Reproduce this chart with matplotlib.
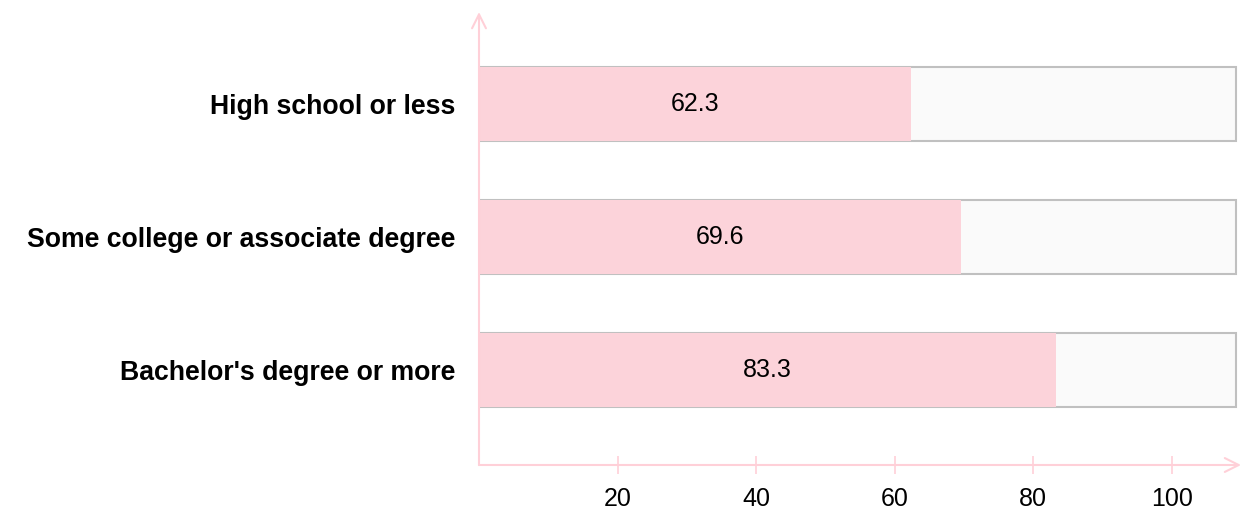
import matplotlib.pyplot as plt

# datos del grafico
categorias = ["High school or less", "Some college or associate degree", "Bachelor's degree or more"]
valores = [62.3, 69.6, 83.3]
ticks_x = [20, 40, 60, 80, 100]
fondo_max = 109.3

ROSA = "#fcd3da"
EJE = "#ffd0d8"

plt.rcParams["font.family"] = ["Liberation Sans", "DejaVu Sans"]

fig = plt.figure(figsize=(12.5, 5.24), dpi=100)
ax = fig.add_axes([479 / 1250, 0.1126, (1241 - 479) / 1250, 0.977 - 0.1126])

posiciones = list(range(len(categorias)))[::-1]

# barra de fondo gris y barra rosa encima
ax.barh(posiciones, [fondo_max] * len(categorias), height=0.56,
        color="#fafafa", edgecolor="#c0c0c0", linewidth=1.5, zorder=1)
ax.barh(posiciones, valores, height=0.56, color=ROSA, zorder=2)

for y, v in zip(posiciones, valores):
    ax.text(v / 2, y, f"{v}", ha="center", va="center", fontsize=18, zorder=3)

ax.set_xlim(0, 110)
ax.set_ylim(-0.714, 2.69)

ax.set_yticks(posiciones)
ax.set_yticklabels(categorias, fontsize=19.2, fontweight="bold")
ax.tick_params(axis="y", length=0, pad=17)

ax.set_xticks(ticks_x)
ax.set_xticklabels([str(t) for t in ticks_x], fontsize=18)
ax.tick_params(axis="x", direction="inout", length=13, width=1.2, color=EJE, pad=9)

for lado in ["top", "right", "left", "bottom"]:
    ax.spines[lado].set_visible(False)

# ejes con flecha
ax.annotate("", xy=(0, 1), xytext=(0, 0), xycoords="axes fraction",
            arrowprops=dict(arrowstyle="->", color=EJE, lw=1.5,
                            mutation_scale=25, shrinkA=0, shrinkB=0))
ax.annotate("", xy=(1, 0), xytext=(0, 0), xycoords="axes fraction",
            arrowprops=dict(arrowstyle="->", color=EJE, lw=1.5,
                            mutation_scale=25, shrinkA=0, shrinkB=0))

plt.savefig("out.png", dpi=100)
